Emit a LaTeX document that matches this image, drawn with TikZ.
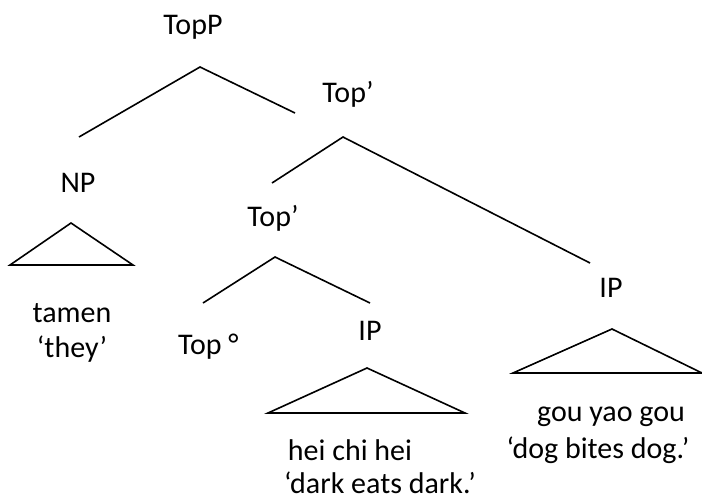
\documentclass[tikz,border=0pt]{standalone}
\usepackage{fontspec}
\setmainfont{Carlito}
\begin{document}
\begin{tikzpicture}[x=1pt,y=-1pt,
  lbl/.style={inner sep=0pt,anchor=base,font=\fontsize{30}{36}\selectfont},
  branch/.style={line width=1.6pt,line cap=butt},
  tri/.style={line width=1.6pt,line join=miter}]
\useasboundingbox (0,0) rectangle (702,499);
% labels
\node[lbl] (topp) at (193,34) {TopP};
\node[lbl] (topbar1) at (348,102) {Top’};
\node[lbl] (np) at (78,192) {NP};
\node[lbl] (topbar2) at (273,226) {Top’};
\node[lbl,anchor=base west] (topzero) at (178,354) {Top °};
\node[lbl] (ipa) at (370,340) {IP};
\node[lbl] (ipb) at (611,297) {IP};
\node[lbl] (tamen) at (72,322) {tamen};
\node[lbl] (they) at (72,357) {‘they’};
\node[lbl] (hei) at (350,460) {hei chi hei};
\node[lbl] (dark) at (380,493) {‘dark eats dark.’};
\node[lbl] (gou) at (611,421) {gou yao gou};
\node[lbl] (dog) at (598,458) {‘dog bites dog.’};
% branch points
\coordinate (a1) at (200,67);
\coordinate (a1l) at (79,137);
\coordinate (a1r) at (295,113);
\coordinate (a2) at (343,137);
\coordinate (a2l) at (272,183);
\coordinate (a2r) at (590,263);
\coordinate (a3) at (275,257);
\coordinate (a3l) at (203,303);
\coordinate (a3r) at (370,303);
% triangles
\coordinate (t1) at (71,223);
\coordinate (t1l) at (10,265);
\coordinate (t1r) at (133,265);
\coordinate (t2) at (367,368);
\coordinate (t2l) at (268,413);
\coordinate (t2r) at (465,413);
\coordinate (t3) at (612,329);
\coordinate (t3l) at (513,373);
\coordinate (t3r) at (702,373);
\draw[branch] (a1l) -- (a1) -- (a1r);
\draw[branch] (a2l) -- (a2) -- (a2r);
\draw[branch] (a3l) -- (a3) -- (a3r);
\draw[tri] (t1) -- (t1l) -- (t1r) -- cycle;
\draw[tri] (t2) -- (t2l) -- (t2r) -- cycle;
\draw[tri] (t3) -- (t3l) -- (t3r) -- cycle;
\end{tikzpicture}
\end{document}
